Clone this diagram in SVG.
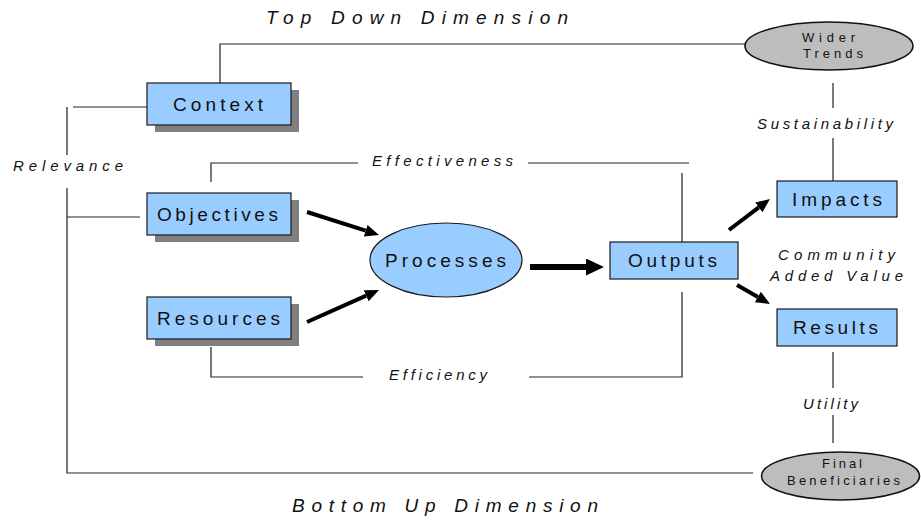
<svg xmlns="http://www.w3.org/2000/svg" width="921" height="521" viewBox="0 0 921 521">
<style>
.box{fill:#99CCFF;stroke:#1a1a1a;stroke-width:1.2}
.sh{fill:#808080}
.ell{fill:#99CCFF;stroke:#1a1a1a;stroke-width:1.2}
.gell{fill:#BDBDBD;stroke:#111;stroke-width:1.6}
.lbl{font-family:"Liberation Sans",Arial,sans-serif;font-size:19px;fill:#111}
.sm{font-family:"Liberation Sans",Arial,sans-serif;font-size:13px;fill:#111}
.it{font-family:"Liberation Sans",Arial,sans-serif;font-size:15px;font-style:italic;fill:#111}
.big{font-family:"Liberation Sans",Arial,sans-serif;font-size:19px;font-style:italic;fill:#111}
.ln{fill:none;stroke:#222;stroke-width:1.2}
.ar{fill:none;stroke:#000;stroke-width:4}
.ar2{fill:none;stroke:#000;stroke-width:6}
</style>
<defs>
<marker id="ah" markerUnits="userSpaceOnUse" markerWidth="16" markerHeight="14" refX="0" refY="6" orient="auto"><path d="M0,0 L14,6 L0,12 z" fill="#000"/></marker>
<marker id="ah2" markerUnits="userSpaceOnUse" markerWidth="20" markerHeight="18" refX="0" refY="8.5" orient="auto"><path d="M0,0 L18,8.5 L0,17 z" fill="#000"/></marker>
</defs>
<rect width="921" height="521" fill="#fff"/>

<g id="connectors">
<path class="ln" d="M220,83 V44 H745"/>
<path class="ln" d="M67,107 V155 M67,188 V473 H753 M73,107 H147 M67,217 H140"/>
<path class="ln" d="M211,182 V163 H358 M528,163 H689 M682,173 V242"/>
<path class="ln" d="M211,347 V377 H363 M529,377 H682 V292"/>
<path class="ln" d="M833,83 V108 M833,138 V181"/>
<path class="ln" d="M833,352 V388 M833,415 V443"/>
<line class="ar" x1="307" y1="212" x2="365.7" y2="230.7" marker-end="url(#ah)"/>
<line class="ar" x1="307" y1="322" x2="366.2" y2="295.7" marker-end="url(#ah)"/>
<line class="ar2" x1="530" y1="267" x2="586" y2="267" marker-end="url(#ah2)"/>
<line class="ar" x1="729" y1="230" x2="758.8" y2="207.4" marker-end="url(#ah)"/>
<line class="ar" x1="737" y1="285" x2="757.9" y2="297" marker-end="url(#ah)"/>
</g>

<g id="labels">
<text class="big" x="266" y="24" textLength="302" lengthAdjust="spacing">Top Down Dimension</text>
<text class="big" x="292" y="512" textLength="306" lengthAdjust="spacing">Bottom Up Dimension</text>
<text class="it" x="13" y="171" textLength="110" lengthAdjust="spacing">Relevance</text>
<text class="it" x="372" y="166" textLength="141" lengthAdjust="spacing">Effectiveness</text>
<text class="it" x="389" y="380" textLength="98" lengthAdjust="spacing">Efficiency</text>
<text class="it" x="757" y="129" textLength="136" lengthAdjust="spacing">Sustainability</text>
<text class="it" x="778" y="260" textLength="117" lengthAdjust="spacing">Community</text>
<text class="it" x="770" y="281" textLength="133" lengthAdjust="spacing">Added Value</text>
<text class="it" x="803" y="409" textLength="55" lengthAdjust="spacing">Utility</text>
</g>

<g id="context">
<rect class="sh" x="155" y="90" width="144" height="42"/>
<rect class="box" x="147" y="83" width="144" height="42"/>
<text class="lbl" x="173" y="111" textLength="90" lengthAdjust="spacing">Context</text>
</g>
<g id="objectives">
<rect class="sh" x="155" y="200" width="144" height="42"/>
<rect class="box" x="147" y="193" width="144" height="42"/>
<text class="lbl" x="157" y="221" textLength="121" lengthAdjust="spacing">Objectives</text>
</g>
<g id="resources">
<rect class="sh" x="155" y="304" width="144" height="42"/>
<rect class="box" x="147" y="297" width="144" height="42"/>
<text class="lbl" x="157" y="325" textLength="123" lengthAdjust="spacing">Resources</text>
</g>
<g id="processes">
<ellipse class="ell" cx="446" cy="260" rx="76" ry="37"/>
<text class="lbl" x="385" y="267" textLength="121" lengthAdjust="spacing">Processes</text>
</g>
<g id="outputs">
<rect class="box" x="610" y="242" width="128" height="37"/>
<text class="lbl" x="628" y="267" textLength="89" lengthAdjust="spacing">Outputs</text>
</g>
<g id="impacts">
<rect class="box" x="777" y="181" width="120" height="36"/>
<text class="lbl" x="792" y="206" textLength="90" lengthAdjust="spacing">Impacts</text>
</g>
<g id="results">
<rect class="box" x="777" y="309" width="120" height="37"/>
<text class="lbl" x="793" y="334" textLength="85" lengthAdjust="spacing">Results</text>
</g>
<g id="wider-trends">
<ellipse class="gell" cx="829" cy="46" rx="84" ry="24"/>
<text class="sm" x="802" y="42" textLength="53" lengthAdjust="spacing">Wider</text>
<text class="sm" x="803" y="58" textLength="60" lengthAdjust="spacing">Trends</text>
</g>
<g id="final-beneficiaries">
<ellipse class="gell" cx="840.5" cy="476" rx="79" ry="24"/>
<text class="sm" x="822" y="468" textLength="40" lengthAdjust="spacing">Final</text>
<text class="sm" x="787" y="485" textLength="113" lengthAdjust="spacing">Beneficiaries</text>
</g>
</svg>
